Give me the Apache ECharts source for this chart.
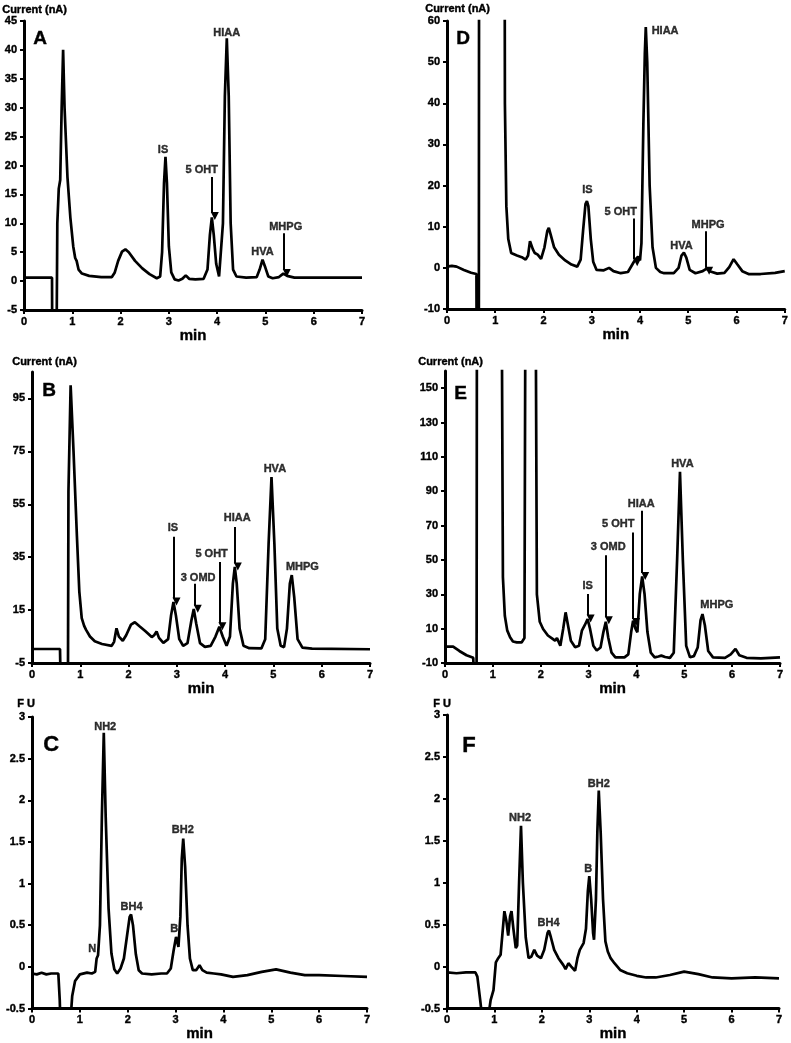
<!DOCTYPE html>
<html>
<head>
<meta charset="utf-8">
<script src="https://cdn.jsdelivr.net/npm/echarts@6/dist/echarts.min.js"></script>
<style>
  html, body { margin: 0; padding: 0; background: #fff; }
  #chart { width: 791px; height: 1043px; }
</style>
</head>
<body>
<div id="chart"></div>
<script>
// chromatogram traces: [time (min), signal]
var traceA = [[0,0.6],[0.58,0.6],[0.585,-10],[0.675,-10],[0.69,10],[0.72,16],[0.75,17.5],[0.78,30],[0.81,40],[0.84,30],[0.9,18],[0.96,11],[1.02,6],[1.06,4],[1.09,3.5],[1.13,2],[1.2,1.3],[1.35,0.9],[1.6,0.7],[1.82,0.7],[1.88,1.5],[1.95,3.5],[2.03,5.1],[2.1,5.5],[2.17,5],[2.3,3.5],[2.45,2.2],[2.6,1.2],[2.75,0.5],[2.82,0.8],[2.86,5],[2.9,17],[2.93,21.5],[2.96,17],[3.0,6],[3.05,1.5],[3.12,0.3],[3.2,0.1],[3.28,0.4],[3.35,1],[3.42,0.4],[3.55,0.3],[3.72,0.4],[3.8,2],[3.85,8],[3.89,11],[3.93,8],[3.98,3],[4.04,0.8],[4.08,1],[4.12,10],[4.16,32],[4.2,42],[4.24,32],[4.28,10],[4.33,2],[4.4,0.8],[4.6,0.6],[4.82,0.7],[4.88,2],[4.94,3.7],[5.0,2.3],[5.06,0.8],[5.15,0.5],[5.28,0.7],[5.37,1.3],[5.45,0.9],[5.6,0.6],[6,0.6],[7,0.6]];
var traceD = [[0,0.3],[0.1,0.5],[0.2,0.3],[0.35,-0.5],[0.5,-1.2],[0.61,-1.5],[0.615,-20],[0.66,-20],[0.67,200],[1.18,200],[1.2,40],[1.23,15],[1.27,7],[1.33,3.6],[1.45,3],[1.55,2.6],[1.63,2],[1.68,3],[1.72,6.5],[1.75,6.9],[1.78,4.5],[1.82,3.6],[1.88,3.2],[1.95,2.2],[2.02,5],[2.08,9],[2.11,9.7],[2.15,8],[2.22,5],[2.32,3.2],[2.45,1.8],[2.58,0.8],[2.7,0.3],[2.77,2],[2.82,9],[2.87,15.5],[2.9,16.2],[2.93,15],[2.98,7],[3.03,1.5],[3.1,-0.5],[3.25,-0.6],[3.36,0],[3.45,-0.8],[3.6,-1.3],[3.75,-1],[3.85,1],[3.9,2],[3.96,2.7],[4.0,1.8],[4.03,6],[4.07,35],[4.1,52],[4.12,58.5],[4.15,50],[4.2,20],[4.26,5],[4.33,0],[4.42,-1],[4.5,-1.3],[4.7,-1.3],[4.8,0],[4.86,3],[4.91,3.7],[4.96,2.5],[5.03,-0.5],[5.15,-1.3],[5.3,-0.8],[5.38,-0.2],[5.46,-0.9],[5.6,-1.4],[5.75,-1.2],[5.85,0.2],[5.94,2.1],[6.02,0.8],[6.12,-0.8],[6.25,-1.5],[6.5,-1.5],[6.8,-1.2],[7,-0.8]];
var traceB = [[0,0.3],[0.58,0.3],[0.59,-10],[0.745,-10],[0.755,60],[0.8,100],[0.86,75],[0.93,43],[0.98,22],[1.03,12],[1.08,9],[1.12,7.5],[1.2,5],[1.3,3.2],[1.45,2.2],[1.65,1.5],[1.7,3],[1.75,8.1],[1.8,5],[1.88,3.4],[1.95,5.5],[2.05,9.5],[2.13,10.4],[2.22,9],[2.35,7],[2.48,4.8],[2.53,5.5],[2.58,6.9],[2.63,4.5],[2.72,2.6],[2.82,4],[2.88,13],[2.93,18.1],[2.98,13],[3.05,4],[3.13,1.5],[3.22,2.5],[3.3,11],[3.35,15.4],[3.4,10],[3.48,2.5],[3.58,1.1],[3.7,1.5],[3.8,5],[3.88,8.7],[3.95,5],[4.03,1.5],[4.1,5],[4.16,25],[4.2,31.3],[4.24,25],[4.3,8],[4.38,1.5],[4.5,0.6],[4.75,0.5],[4.83,4],[4.9,40],[4.96,65.3],[5.02,40],[5.08,8],[5.15,1.5],[5.22,1],[5.28,8],[5.34,25],[5.38,28.2],[5.43,20],[5.5,4],[5.6,0.8],[5.8,0.4],[7,0.2]];
var traceE = [[0,-0.5],[0.17,-0.5],[0.3,-3],[0.45,-5.5],[0.59,-7],[0.61,-20],[0.66,-20],[0.67,300],[1.17,300],[1.21,40],[1.25,17.5],[1.3,9],[1.36,5],[1.42,2.5],[1.5,2],[1.6,2],[1.66,4.5],[1.69,300],[1.88,300],[1.92,30],[1.98,14],[2.05,9.8],[2.15,6],[2.25,4],[2.3,3],[2.34,4.5],[2.41,0.1],[2.47,10],[2.52,19.5],[2.57,12],[2.63,3],[2.72,-0.8],[2.8,0],[2.86,8.8],[2.92,12],[2.98,15.6],[3.03,10],[3.1,0],[3.17,-2.7],[3.25,-1],[3.31,8],[3.36,14],[3.41,5],[3.48,-4],[3.56,-6.7],[3.75,-6.7],[3.83,-5],[3.89,8],[3.93,14.6],[3.98,10],[4.02,7.9],[4.07,30],[4.12,40.4],[4.17,30],[4.23,8],[4.3,-4],[4.38,-6.7],[4.46,-6.2],[4.52,-5.7],[4.6,-6.5],[4.7,-7],[4.78,-4],[4.85,50],[4.91,101.3],[4.97,50],[5.04,0],[5.12,-6.7],[5.2,-6],[5.28,-1],[5.34,15],[5.38,18.5],[5.43,12],[5.5,-3],[5.6,-6.7],[5.85,-7],[5.97,-5],[6.07,-1.8],[6.15,-5.5],[6.3,-7],[6.6,-7.3],[7,-6.7]];
var traceC = [[0,-0.08],[0.1,-0.09],[0.2,-0.07],[0.3,-0.09],[0.4,-0.08],[0.55,-0.08],[0.58,-0.4],[0.6,-0.8],[0.8,-0.8],[0.81,-0.6],[0.84,-0.35],[0.9,-0.17],[1.0,-0.09],[1.15,-0.07],[1.25,-0.08],[1.32,-0.06],[1.35,0.1],[1.38,0.14],[1.42,0.5],[1.46,1.8],[1.5,2.81],[1.54,1.8],[1.6,0.7],[1.66,0.16],[1.72,-0.03],[1.78,-0.08],[1.85,-0.02],[1.92,0.1],[1.98,0.35],[2.04,0.6],[2.07,0.63],[2.11,0.5],[2.17,0.15],[2.23,-0.04],[2.3,-0.08],[2.5,-0.09],[2.7,-0.08],[2.82,-0.08],[2.9,-0.02],[2.96,0.2],[3.01,0.36],[3.06,0.24],[3.1,0.6],[3.13,1.3],[3.16,1.54],[3.2,1.2],[3.25,0.5],[3.3,0.1],[3.36,-0.04],[3.43,-0.04],[3.5,0.02],[3.56,-0.04],[3.65,-0.07],[3.8,-0.08],[3.95,-0.09],[4.2,-0.12],[4.5,-0.1],[4.8,-0.06],[5.1,-0.03],[5.4,-0.07],[5.7,-0.1],[6,-0.1],[6.5,-0.11],[7,-0.12]];
var traceF = [[0,-0.07],[0.2,-0.08],[0.4,-0.07],[0.6,-0.07],[0.64,-0.12],[0.7,-0.4],[0.74,-0.6],[0.87,-0.6],[0.92,-0.4],[0.98,-0.28],[1.03,0.05],[1.08,0.1],[1.13,0.14],[1.17,0.4],[1.21,0.66],[1.25,0.55],[1.29,0.37],[1.33,0.6],[1.36,0.66],[1.4,0.45],[1.45,0.22],[1.48,0.25],[1.52,1.0],[1.56,1.68],[1.6,1.0],[1.66,0.35],[1.72,0.1],[1.78,0.12],[1.84,0.2],[1.9,0.13],[1.98,0.1],[2.05,0.2],[2.12,0.4],[2.15,0.43],[2.19,0.35],[2.26,0.2],[2.35,0.1],[2.45,0.02],[2.5,-0.03],[2.56,0.04],[2.62,0.0],[2.7,-0.05],[2.75,0.1],[2.8,0.2],[2.88,0.28],[2.93,0.45],[2.97,0.9],[3.0,1.08],[3.04,0.8],[3.08,0.4],[3.1,0.32],[3.14,0.8],[3.17,1.6],[3.2,2.1],[3.24,1.6],[3.29,0.8],[3.34,0.3],[3.39,0.18],[3.45,0.1],[3.53,0.04],[3.65,-0.04],[3.8,-0.08],[4.0,-0.11],[4.2,-0.13],[4.4,-0.13],[4.7,-0.1],[5.0,-0.06],[5.3,-0.09],[5.6,-0.13],[6.0,-0.14],[6.5,-0.13],[7,-0.14]];

// peak names: [text, time, signal]
var labelsA = [["IS",2.88,22.7],["5 OHT",3.68,19.2],["HIAA",4.2,43],["HVA",4.94,5],["MHPG",5.42,9.3]];
var labelsD = [["IS",2.91,18.9],["5 OHT",3.6,13.5],["HIAA",4.52,57.6],["HVA",4.86,5.4],["MHPG",5.41,10.5]];
var labelsB = [["IS",2.92,46.2],["3 OMD",3.44,27.3],["5 OHT",3.72,36.1],["HIAA",4.25,49.8],["HVA",5.03,68.2],["MHPG",5.6,31.3]];
var labelsE = [["IS",2.98,34.6],["3 OMD",3.41,57.3],["5 OHT",3.62,70.9],["HIAA",4.1,82.5],["HVA",4.96,106],["MHPG",5.68,23.8]];
var labelsC = [["N",1.26,0.22],["NH2",1.53,2.88],["BH4",2.08,0.72],["B",2.97,0.45],["BH2",3.15,1.64]];
var labelsF = [["NH2",1.54,1.77],["BH4",2.14,0.52],["B",2.98,1.16],["BH2",3.2,2.18]];

// arrows: [time, from, to]
var arrowsA = [[3.89,18,11.8],[5.38,8.3,1.9]];
var arrowsD = [[3.88,12,2.1],[5.37,8.9,0]];
var arrowsB = [[2.93,42.7,19.4],[3.37,25,16.6],[3.88,33.2,10],[4.2,46.4,32.6]];
var arrowsE = [[2.98,30.2,17.6],[3.36,52.8,16.6],[3.93,66,15.6],[4.12,78.6,42.4]];

var xTicks = [0, 7, 1];

var FONT = "Liberation Sans";
var HEAVY = { fontFamily: FONT, fontWeight: "bold", color: "#000", textBorderColor: "#000", textBorderWidth: 0.4 };
function heavy(size, extra) {
  var s = Object.assign({}, HEAVY, { fontSize: size });
  return Object.assign(s, extra || {});
}

var panels = [
  { trace: traceA, labels: labelsA, arrows: arrowsA, grid: {left: 24, top: 21, width: 338, height: 289}, y: [-5, 45, 5], hideMax: false },
  { trace: traceD, labels: labelsD, arrows: arrowsD, grid: {left: 447, top: 21, width: 340, height: 288}, y: [-10, 60, 10], hideMax: false },
  { trace: traceB, labels: labelsB, arrows: arrowsB, grid: {left: 32, top: 372, width: 338, height: 291}, y: [-5, 105, 20], hideMax: true },
  { trace: traceE, labels: labelsE, arrows: arrowsE, grid: {left: 445, top: 371, width: 335, height: 292}, y: [-10, 160, 20], hideMax: true },
  { trace: traceC, labels: labelsC, arrows: [], grid: {left: 32, top: 717, width: 335, height: 300}, y: [-0.5, 3, 0.5], hideMax: false },
  { trace: traceF, labels: labelsF, arrows: [], grid: {left: 447, top: 715, width: 332, height: 301}, y: [-0.5, 3, 0.5], hideMax: false }
];

var grids = [], xAxes = [], yAxes = [], series = [];
panels.forEach(function (p, i) {
  grids.push(p.grid);
  xAxes.push({
    type: "value", gridIndex: i, min: xTicks[0], max: xTicks[1], interval: xTicks[2],
    name: "min", nameLocation: "middle", nameGap: 16,
    nameTextStyle: heavy(15),
    axisLine: { onZero: false, lineStyle: { color: "#000", width: 3 } },
    axisTick: { length: 4, lineStyle: { color: "#000", width: 2 } },
    axisLabel: heavy(11, { margin: 6 }),
    splitLine: { show: false }
  });
  yAxes.push({
    type: "value", gridIndex: i, min: p.y[0], max: p.y[1], interval: p.y[2],
    axisLine: { onZero: false, lineStyle: { color: "#000", width: 3 } },
    axisTick: { length: 4, lineStyle: { color: "#000", width: 2 } },
    axisLabel: heavy(11, { margin: 7, showMaxLabel: !p.hideMax }),
    splitLine: { show: false }
  });
  series.push({
    type: "line", xAxisIndex: i, yAxisIndex: i, data: p.trace,
    showSymbol: false, clip: true, silent: true,
    lineStyle: { color: "#000", width: 2.7 },
    markLine: {
      silent: true, symbol: ["none", "triangle"], symbolSize: 8, symbolOffset: [0, -3],
      label: { show: false },
      itemStyle: { color: "#000" },
      lineStyle: { color: "#000", width: 2, type: "solid" },
      data: p.arrows.map(function (a) { return [{ coord: [a[0], a[1]] }, { coord: [a[0], a[2]] }]; })
    }
  });
  series.push({
    type: "scatter", xAxisIndex: i, yAxisIndex: i, symbolSize: 0, silent: true,
    data: p.labels.map(function (l) { return { name: l[0], value: [l[1], l[2]] }; }),
    label: heavy(11, { show: true, position: "inside", formatter: "{b}" })
  });
});

function txt(x, y, s, size) {
  return { type: "text", left: x, top: y, style: { text: s, fontFamily: FONT, fontWeight: "bold", fontSize: size, fill: "#000", stroke: "#000", lineWidth: 0.4 } };
}

var chart = echarts.init(document.getElementById("chart"));
chart.setOption({
  animation: false,
  backgroundColor: "#fff",
  grid: grids, xAxis: xAxes, yAxis: yAxes, series: series,
  graphic: [
    txt(2, 4, "Current (nA)", 11), txt(425, 3, "Current (nA)", 11),
    txt(12, 356, "Current (nA)", 11), txt(418, 356, "Current (nA)", 11),
    txt(17, 698, "F U", 11), txt(433, 698, "F U", 11),
    txt(33, 29, "A", 19), txt(456, 29, "D", 19),
    txt(42, 381, "B", 19), txt(454, 384, "E", 19),
    txt(43, 734, "C", 22), txt(462, 735, "F", 22)
  ]
});
</script>
</body>
</html>
